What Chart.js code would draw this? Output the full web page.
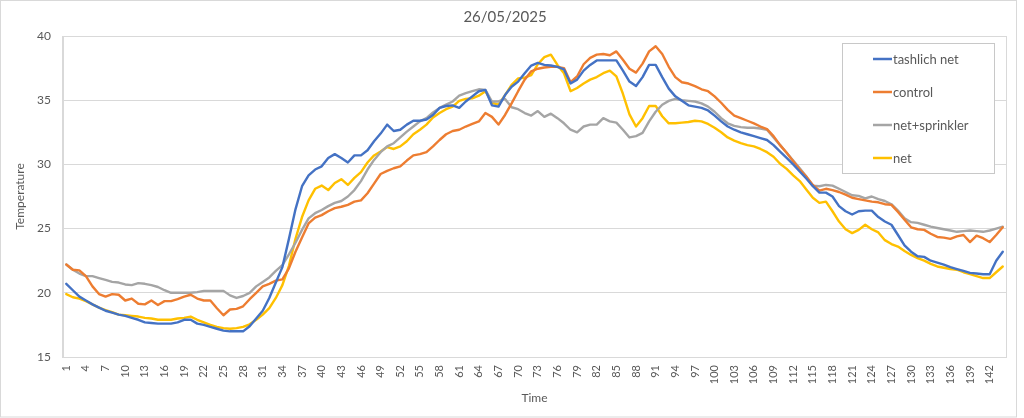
<!DOCTYPE html>
<html>
<head>
<meta charset="utf-8">
<script src="https://cdn.jsdelivr.net/npm/chart.js@4.4.1/dist/chart.umd.min.js"></script>
<style>
  html, body { margin: 0; padding: 0; background: #ffffff; }
  #wrap { width: 1024px; height: 418px; }
</style>
</head>
<body>
<div id="wrap"><canvas id="c" width="1024" height="418"></canvas></div>
<script>
const chartTitle = "26/05/2025";
const xTitle = "Time";
const yTitle = "Temperature";

const categories = [
  1,2,3,4,5,6,7,8,9,10,11,12,13,14,15,16,17,18,19,20,
  21,22,23,24,25,26,27,28,29,30,31,32,33,34,35,36,37,38,39,40,
  41,42,43,44,45,46,47,48,49,50,51,52,53,54,55,56,57,58,59,60,
  61,62,63,64,65,66,67,68,69,70,71,72,73,74,75,76,77,78,79,80,
  81,82,83,84,85,86,87,88,89,90,91,92,93,94,95,96,97,98,99,100,
  101,102,103,104,105,106,107,108,109,110,111,112,113,114,115,116,117,118,119,120,
  121,122,123,124,125,126,127,128,129,130,131,132,133,134,135,136,137,138,139,140,
  141,142,143,144
];

const seriesNames = ["tashlich net", "control", "net+sprinkler", "net"];
const seriesColors = ["#4472C4", "#ED7D31", "#A5A5A5", "#FFC000"];

const tashlichNet = [
  20.7,20.2,19.7,19.4,19.1,18.85,18.6,18.45,18.3,18.2,
  18.05,17.9,17.7,17.65,17.6,17.6,17.6,17.7,17.9,17.9,
  17.6,17.5,17.35,17.2,17.05,17.0,17.0,17.0,17.4,18.0,
  18.6,19.6,20.8,22.0,24.2,26.5,28.3,29.15,29.6,29.85,
  30.5,30.8,30.5,30.15,30.7,30.7,31.1,31.8,32.4,33.1,
  32.6,32.7,33.1,33.4,33.4,33.5,33.85,34.4,34.55,34.6,
  34.4,34.9,35.3,35.7,35.8,34.6,34.5,35.4,36.05,36.45,
  37.1,37.7,37.9,37.75,37.7,37.6,37.4,36.3,36.6,37.3,
  37.75,38.1,38.1,38.1,38.1,37.3,36.45,36.1,36.8,37.75,
  37.75,36.8,35.9,35.3,34.95,34.6,34.5,34.4,34.2,33.8,
  33.35,32.95,32.7,32.5,32.35,32.2,32.05,31.9,31.5,31.0,
  30.5,30.0,29.45,28.9,28.3,27.8,27.8,27.5,26.75,26.35,
  26.1,26.35,26.4,26.4,25.9,25.55,25.3,24.5,23.7,23.2,
  22.85,22.8,22.5,22.35,22.2,22.0,21.85,21.7,21.55,21.5,
  21.45,21.45,22.5,23.2
];

const control = [
  22.2,21.8,21.75,21.3,20.5,19.9,19.7,19.9,19.85,19.4,
  19.55,19.15,19.1,19.4,19.05,19.35,19.35,19.5,19.7,19.85,
  19.55,19.4,19.4,18.8,18.25,18.7,18.75,18.95,19.5,20.0,
  20.5,20.7,20.95,21.05,21.9,23.2,24.3,25.4,25.85,26.05,
  26.35,26.6,26.7,26.85,27.1,27.2,27.75,28.5,29.25,29.5,
  29.7,29.85,30.3,30.7,30.8,30.95,31.4,31.9,32.35,32.6,
  32.7,32.95,33.15,33.35,34.0,33.7,33.1,33.85,34.75,35.7,
  36.6,37.25,37.45,37.55,37.6,37.6,37.5,36.4,36.85,37.8,
  38.3,38.55,38.6,38.5,38.8,38.15,37.45,37.15,37.85,38.8,
  39.2,38.6,37.6,36.8,36.4,36.3,36.1,35.85,35.7,35.3,
  34.8,34.25,33.8,33.6,33.4,33.2,32.95,32.75,32.2,31.5,
  30.9,30.25,29.6,29.05,28.4,27.95,28.1,28.0,27.85,27.65,
  27.4,27.3,27.2,27.1,27.05,26.9,26.85,26.3,25.7,25.1,
  24.95,24.9,24.6,24.35,24.3,24.2,24.4,24.5,23.95,24.45,
  24.25,23.95,24.5,25.1
];

const netSprinkler = [
  22.2,21.8,21.5,21.3,21.3,21.15,21.0,20.85,20.8,20.65,
  20.6,20.75,20.7,20.6,20.45,20.2,20.0,20.0,20.0,20.0,
  20.05,20.15,20.15,20.15,20.15,19.8,19.6,19.75,20.0,20.5,
  20.85,21.2,21.7,22.15,23.0,23.9,24.9,25.8,26.2,26.45,
  26.75,27.0,27.15,27.5,28.0,28.7,29.6,30.35,30.95,31.4,
  31.65,32.1,32.55,32.95,33.35,33.6,34.05,34.4,34.65,34.9,
  35.35,35.55,35.7,35.85,35.8,34.9,34.9,35.1,34.45,34.3,
  34.0,33.8,34.15,33.7,33.95,33.6,33.2,32.7,32.5,32.95,
  33.1,33.1,33.6,33.35,33.25,32.7,32.1,32.2,32.45,33.35,
  34.1,34.65,34.95,35.1,35.0,34.95,34.9,34.75,34.5,34.1,
  33.6,33.2,33.0,32.9,32.85,32.85,32.8,32.7,32.1,31.5,
  30.9,30.3,29.7,29.05,28.35,28.3,28.4,28.35,28.1,27.85,
  27.6,27.55,27.35,27.5,27.3,27.15,26.9,26.4,25.8,25.5,
  25.45,25.3,25.15,25.05,24.95,24.85,24.75,24.8,24.85,24.8,
  24.75,24.85,25.0,25.15
];

const net = [
  19.9,19.65,19.55,19.35,19.1,18.85,18.65,18.5,18.3,18.25,
  18.2,18.15,18.05,18.0,17.9,17.9,17.9,18.0,18.05,18.15,
  17.9,17.7,17.5,17.35,17.25,17.2,17.25,17.35,17.55,17.9,
  18.3,18.8,19.6,20.6,22.1,24.2,25.9,27.2,28.1,28.35,
  28.0,28.55,28.85,28.4,28.95,29.4,30.15,30.7,31.0,31.35,
  31.2,31.4,31.8,32.35,32.7,33.1,33.65,34.0,34.3,34.5,
  34.95,35.1,35.15,35.35,35.7,34.8,34.65,35.4,36.2,36.7,
  36.75,36.95,37.8,38.35,38.55,37.75,37.1,35.7,35.95,36.3,
  36.6,36.8,37.1,37.3,36.85,35.5,33.9,32.95,33.6,34.55,
  34.55,33.75,33.2,33.2,33.25,33.3,33.4,33.35,33.15,32.85,
  32.5,32.1,31.85,31.65,31.5,31.4,31.2,30.95,30.6,30.05,
  29.65,29.15,28.7,28.05,27.4,27.0,27.1,26.35,25.55,24.95,
  24.65,24.9,25.3,24.95,24.7,24.1,23.8,23.6,23.25,22.95,
  22.7,22.5,22.25,22.05,21.95,21.85,21.8,21.6,21.45,21.3,
  21.15,21.15,21.6,22.05
];

const seriesValues = [tashlichNet, control, netSprinkler, net];
const yTicks = [15, 20, 25, 30, 35, 40];
const xLabelEvery = 3;

const FONT = "Lato, 'Open Sans', 'Liberation Sans', sans-serif";
const TEXT = "#595959";
const GRID = "#d9d9d9";

const framePlugin = {
  id: "frame",
  beforeDraw(chart) {
    const ctx = chart.ctx;
    ctx.save();
    ctx.fillStyle = "#ffffff";
    ctx.fillRect(0, 0, chart.width, chart.height);
    ctx.restore();
  },
  beforeDatasetsDraw(chart) {
    const ctx = chart.ctx;
    const a = chart.chartArea;
    ctx.save();
    ctx.strokeStyle = GRID;
    ctx.lineWidth = 1;
    ctx.strokeRect(Math.round(a.left) - 0.5, Math.round(a.top) + 0.5,
                   Math.round(a.right - a.left) + 1, Math.round(a.bottom - a.top));
    ctx.restore();
  },
  afterDraw(chart) {
    const ctx = chart.ctx;
    ctx.save();
    // outer chart border
    ctx.strokeStyle = GRID;
    ctx.lineWidth = 1;
    ctx.strokeRect(0.5, 0.5, 1016, 416.5);
    // legend box
    const bx = 842, by = 43, bw = 152, bh = 130;
    ctx.fillStyle = "#ffffff";
    ctx.fillRect(bx, by, bw, bh);
    ctx.strokeStyle = "#c8c8c8";
    ctx.strokeRect(bx + 0.5, by + 0.5, bw, bh);
    const rows = [59, 92, 125, 158];
    ctx.font = "13px " + FONT;
    ctx.textBaseline = "middle";
    ctx.textAlign = "left";
    chart.data.datasets.forEach((ds, i) => {
      const y = rows[i];
      ctx.strokeStyle = ds.borderColor;
      ctx.lineWidth = 2.5;
      ctx.beginPath();
      ctx.moveTo(873, y);
      ctx.lineTo(892, y);
      ctx.stroke();
      ctx.fillStyle = TEXT;
      ctx.fillText(ds.label, 893, y + 0.5);
    });
    ctx.restore();
  }
};

new Chart(document.getElementById("c"), {
  type: "line",
  data: {
    labels: categories,
    datasets: seriesNames.map((name, i) => ({
      label: name,
      data: seriesValues[i],
      borderColor: seriesColors[i],
      backgroundColor: seriesColors[i],
      borderWidth: 2.4,
      pointRadius: 0,
      tension: 0,
      fill: false,
      borderJoinStyle: "round",
      borderCapStyle: "round"
    }))
  },
  options: {
    responsive: false,
    animation: false,
    devicePixelRatio: 1,
    layout: { padding: { left: 0, right: 14, top: 0, bottom: 0 } },
    plugins: {
      legend: { display: false },
      tooltip: { enabled: false },
      title: {
        display: true,
        text: chartTitle,
        color: TEXT,
        font: { family: FONT, size: 15, weight: "normal" },
        padding: { top: 8, bottom: 10 }
      }
    },
    scales: {
      x: {
        type: "category",
        offset: true,
        grid: { display: false, drawTicks: false },
        border: { display: true, color: GRID, width: 1 },
        ticks: {
          autoSkip: false,
          minRotation: 90,
          maxRotation: 90,
          padding: 8,
          color: TEXT,
          font: { family: FONT, size: 11 },
          callback: function (v, idx) {
            return idx % xLabelEvery === 0 ? String(categories[idx]) : "";
          }
        },
        title: {
          display: true,
          text: xTitle,
          color: TEXT,
          font: { family: FONT, size: 12 },
          padding: { top: 0, bottom: 13 }
        },
        afterFit(s) { s.height = 61; }
      },
      y: {
        min: 15,
        max: 40,
        afterBuildTicks(s) { s.ticks = yTicks.map(v => ({ value: v })); },
        grid: { color: GRID, lineWidth: 1, drawTicks: false },
        border: { display: true, color: GRID, width: 1 },
        ticks: {
          padding: 12,
          color: TEXT,
          font: { family: FONT, size: 12 }
        },
        title: {
          display: true,
          text: yTitle,
          color: TEXT,
          font: { family: FONT, size: 12 },
          padding: { top: 13, bottom: 0 }
        },
        afterFit(s) { s.width = 63; }
      }
    }
  },
  plugins: [framePlugin]
});
</script>
</body>
</html>
